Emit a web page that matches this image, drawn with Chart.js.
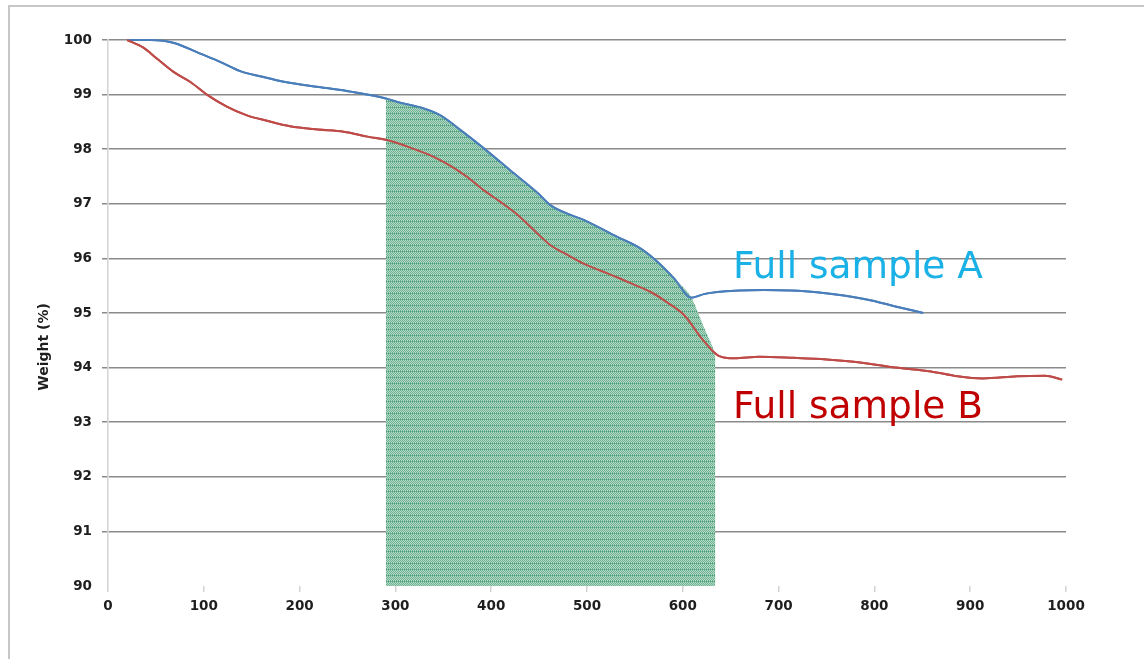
<!DOCTYPE html>
<html>
<head>
<meta charset="utf-8">
<title>Weight loss</title>
<script src="https://cdn.jsdelivr.net/npm/chart.js@4/dist/chart.umd.min.js"></script>
<style>
  html, body { margin: 0; padding: 0; background: #fff; }
  #wrap { position: relative; width: 1144px; height: 659px; overflow: hidden; }
  #frame {
    position: absolute; left: 8px; top: 5px; right: -4px; bottom: -4px;
    border-top: 2px solid #c6c6c6; border-left: 2px solid #c6c6c6;
    pointer-events: none;
  }
  canvas { position: absolute; left: 0; top: 0; }
</style>
</head>
<body>
<div id="wrap">
  <canvas id="c" width="1144" height="659"></canvas>
  <div id="frame"></div>
</div>
<script>
// Temperature (°C) and weight (%) of sample A
const tempA = [20, 45, 55, 70, 95, 117, 138, 160, 185, 220, 255, 290, 305, 323, 347, 368, 392, 420, 449, 462,
               497, 532, 556, 574, 591, 609, 623, 659, 685, 713, 740, 768, 797, 822, 851];
const weightA = [100.00, 100.00, 99.99, 99.94, 99.76, 99.60, 99.43, 99.33, 99.23, 99.14, 99.05, 98.93, 98.85, 98.78,
                 98.62, 98.35, 98.02, 97.61, 97.19, 96.97, 96.70, 96.39, 96.18, 95.93, 95.63, 95.28, 95.35, 95.41,
                 95.42, 95.41, 95.38, 95.32, 95.23, 95.12, 95.00];

// Temperature (°C) and weight (%) of sample B
const tempB = [20, 37, 51, 68, 86, 104, 124, 145, 166, 190, 219, 246, 271, 295, 323, 340, 358, 375, 392, 410,
               428, 445, 462, 480, 497, 515, 532, 549, 567, 584, 602, 619, 637, 654, 680, 715, 750, 787, 822, 859,
               887, 913, 949, 978, 996];
const weightB = [100.00, 99.86, 99.66, 99.42, 99.23, 98.99, 98.78, 98.62, 98.52, 98.42, 98.36, 98.32, 98.23, 98.15,
                 97.98, 97.86, 97.69, 97.49, 97.25, 97.03, 96.79, 96.51, 96.24, 96.06, 95.90, 95.77, 95.65, 95.52,
                 95.38, 95.19, 94.95, 94.55, 94.22, 94.17, 94.20, 94.18, 94.15, 94.09, 94.00, 93.93, 93.84, 93.80,
                 93.84, 93.85, 93.78];

// Shaded decomposition zone (upper edge)
const zoneTemp = [290, 305, 323, 347, 368, 392, 420, 449, 462, 497, 532, 556, 574, 591, 609, 616, 623, 631, 634];
const zoneWeight = [98.93, 98.85, 98.78, 98.62, 98.35, 98.02, 97.61, 97.19, 96.97, 96.70, 96.39, 96.18, 95.93,
                    95.63, 95.28, 95.00, 94.70, 94.38, 94.20];

// Axis ticks
const xTicks = [0, 100, 200, 300, 400, 500, 600, 700, 800, 900, 1000];
const yTicks = [90, 91, 92, 93, 94, 95, 96, 97, 98, 99, 100];

const seriesNames = ['Full sample A', 'Full sample B'];
const yTitle = 'Weight (%)';

const pts = (xs, ys) => xs.map((x, i) => ({ x: x, y: ys[i] }));

// Dotted green texture for the shaded zone
function makeHatch() {
  const t = document.createElement('canvas');
  t.width = 4; t.height = 6;
  const g = t.getContext('2d');
  for (let y = 0; y < 6; y++) {
    for (let x = 0; x < 4; x++) {
      let col;
      if (y === 5) col = (x % 2 === 0) ? '#479877' : '#80bda0';
      else col = ((x + y) % 2 === 0) ? '#6cb491' : '#b6d9c7';
      g.fillStyle = col;
      g.fillRect(x, y, 1, 1);
    }
  }
  return g.createPattern(t, 'repeat');
}

const ctx = document.getElementById('c').getContext('2d');

const overlay = {
  id: 'overlay',
  afterDraw(chart) {
    const c = chart.ctx;
    // keep the curves above the grid lines
    [1, 2].forEach(i => chart.getDatasetMeta(i).controller.draw());
    c.save();
    // axis title
    c.translate(44, 347);
    c.rotate(-Math.PI / 2);
    c.font = 'bold 14px "DejaVu Sans"';
    c.fillStyle = '#1e1e1e';
    c.textAlign = 'center';
    c.textBaseline = 'middle';
    c.fillText(yTitle, 0, 0);
    c.restore();
    // series labels
    c.save();
    c.font = '37.5px "DejaVu Sans"';
    c.textAlign = 'left';
    c.textBaseline = 'alphabetic';
    c.fillStyle = '#19b1e6';
    c.fillText(seriesNames[0], 733, 278);
    c.fillStyle = '#c00000';
    c.fillText(seriesNames[1], 733, 418);
    c.restore();
  }
};

new Chart(ctx, {
  type: 'line',
  data: {
    datasets: [
      {
        label: 'zone',
        data: pts(zoneTemp, zoneWeight),
        borderWidth: 0,
        borderColor: 'rgba(0,0,0,0)',
        backgroundColor: makeHatch(),
        fill: 'start',
        pointRadius: 0,
        cubicInterpolationMode: 'monotone'
      },
      {
        label: seriesNames[0],
        data: pts(tempA, weightA),
        borderColor: '#4a7ebb',
        borderWidth: 2,
        pointRadius: 0,
        fill: false,
        cubicInterpolationMode: 'monotone'
      },
      {
        label: seriesNames[1],
        data: pts(tempB, weightB),
        borderColor: '#be4b48',
        borderWidth: 2,
        pointRadius: 0,
        fill: false,
        cubicInterpolationMode: 'monotone'
      }
    ]
  },
  options: {
    responsive: false,
    animation: false,
    devicePixelRatio: 1,
    layout: { padding: { left: 0, top: 40, right: 78, bottom: 30 } },
    plugins: { legend: { display: false }, tooltip: { enabled: false } },
    scales: {
      x: {
        type: 'linear',
        min: 0, max: 1000,
        afterBuildTicks: s => { s.ticks = xTicks.map(v => ({ value: v })); },
        afterFit: s => { s.height = 43; },
        border: { display: false },
        grid: { drawOnChartArea: false, drawTicks: true, tickLength: 6, color: '#d4d4d4', lineWidth: 1.5 },
        ticks: {
          padding: 6, color: '#1e1e1e', maxRotation: 0,
          font: { family: 'DejaVu Sans', weight: 'bold', size: 13.5 },
          callback: v => String(v)
        }
      },
      y: {
        type: 'linear',
        min: 90, max: 100,
        z: 1,
        afterBuildTicks: s => { s.ticks = yTicks.map(v => ({ value: v })); },
        afterFit: s => { s.width = 108; },
        border: { display: true, color: '#d4d4d4', width: 1.5 },
        grid: {
          color: c => (c.tick && c.tick.value === 90) ? 'rgba(0,0,0,0)' : '#8a8a8a',
          lineWidth: 1.5,
          tickLength: 6
        },
        ticks: {
          padding: 10, color: '#1e1e1e',
          font: { family: 'DejaVu Sans', weight: 'bold', size: 13.5 },
          callback: v => String(v)
        }
      }
    }
  },
  plugins: [overlay]
});
</script>
</body>
</html>
